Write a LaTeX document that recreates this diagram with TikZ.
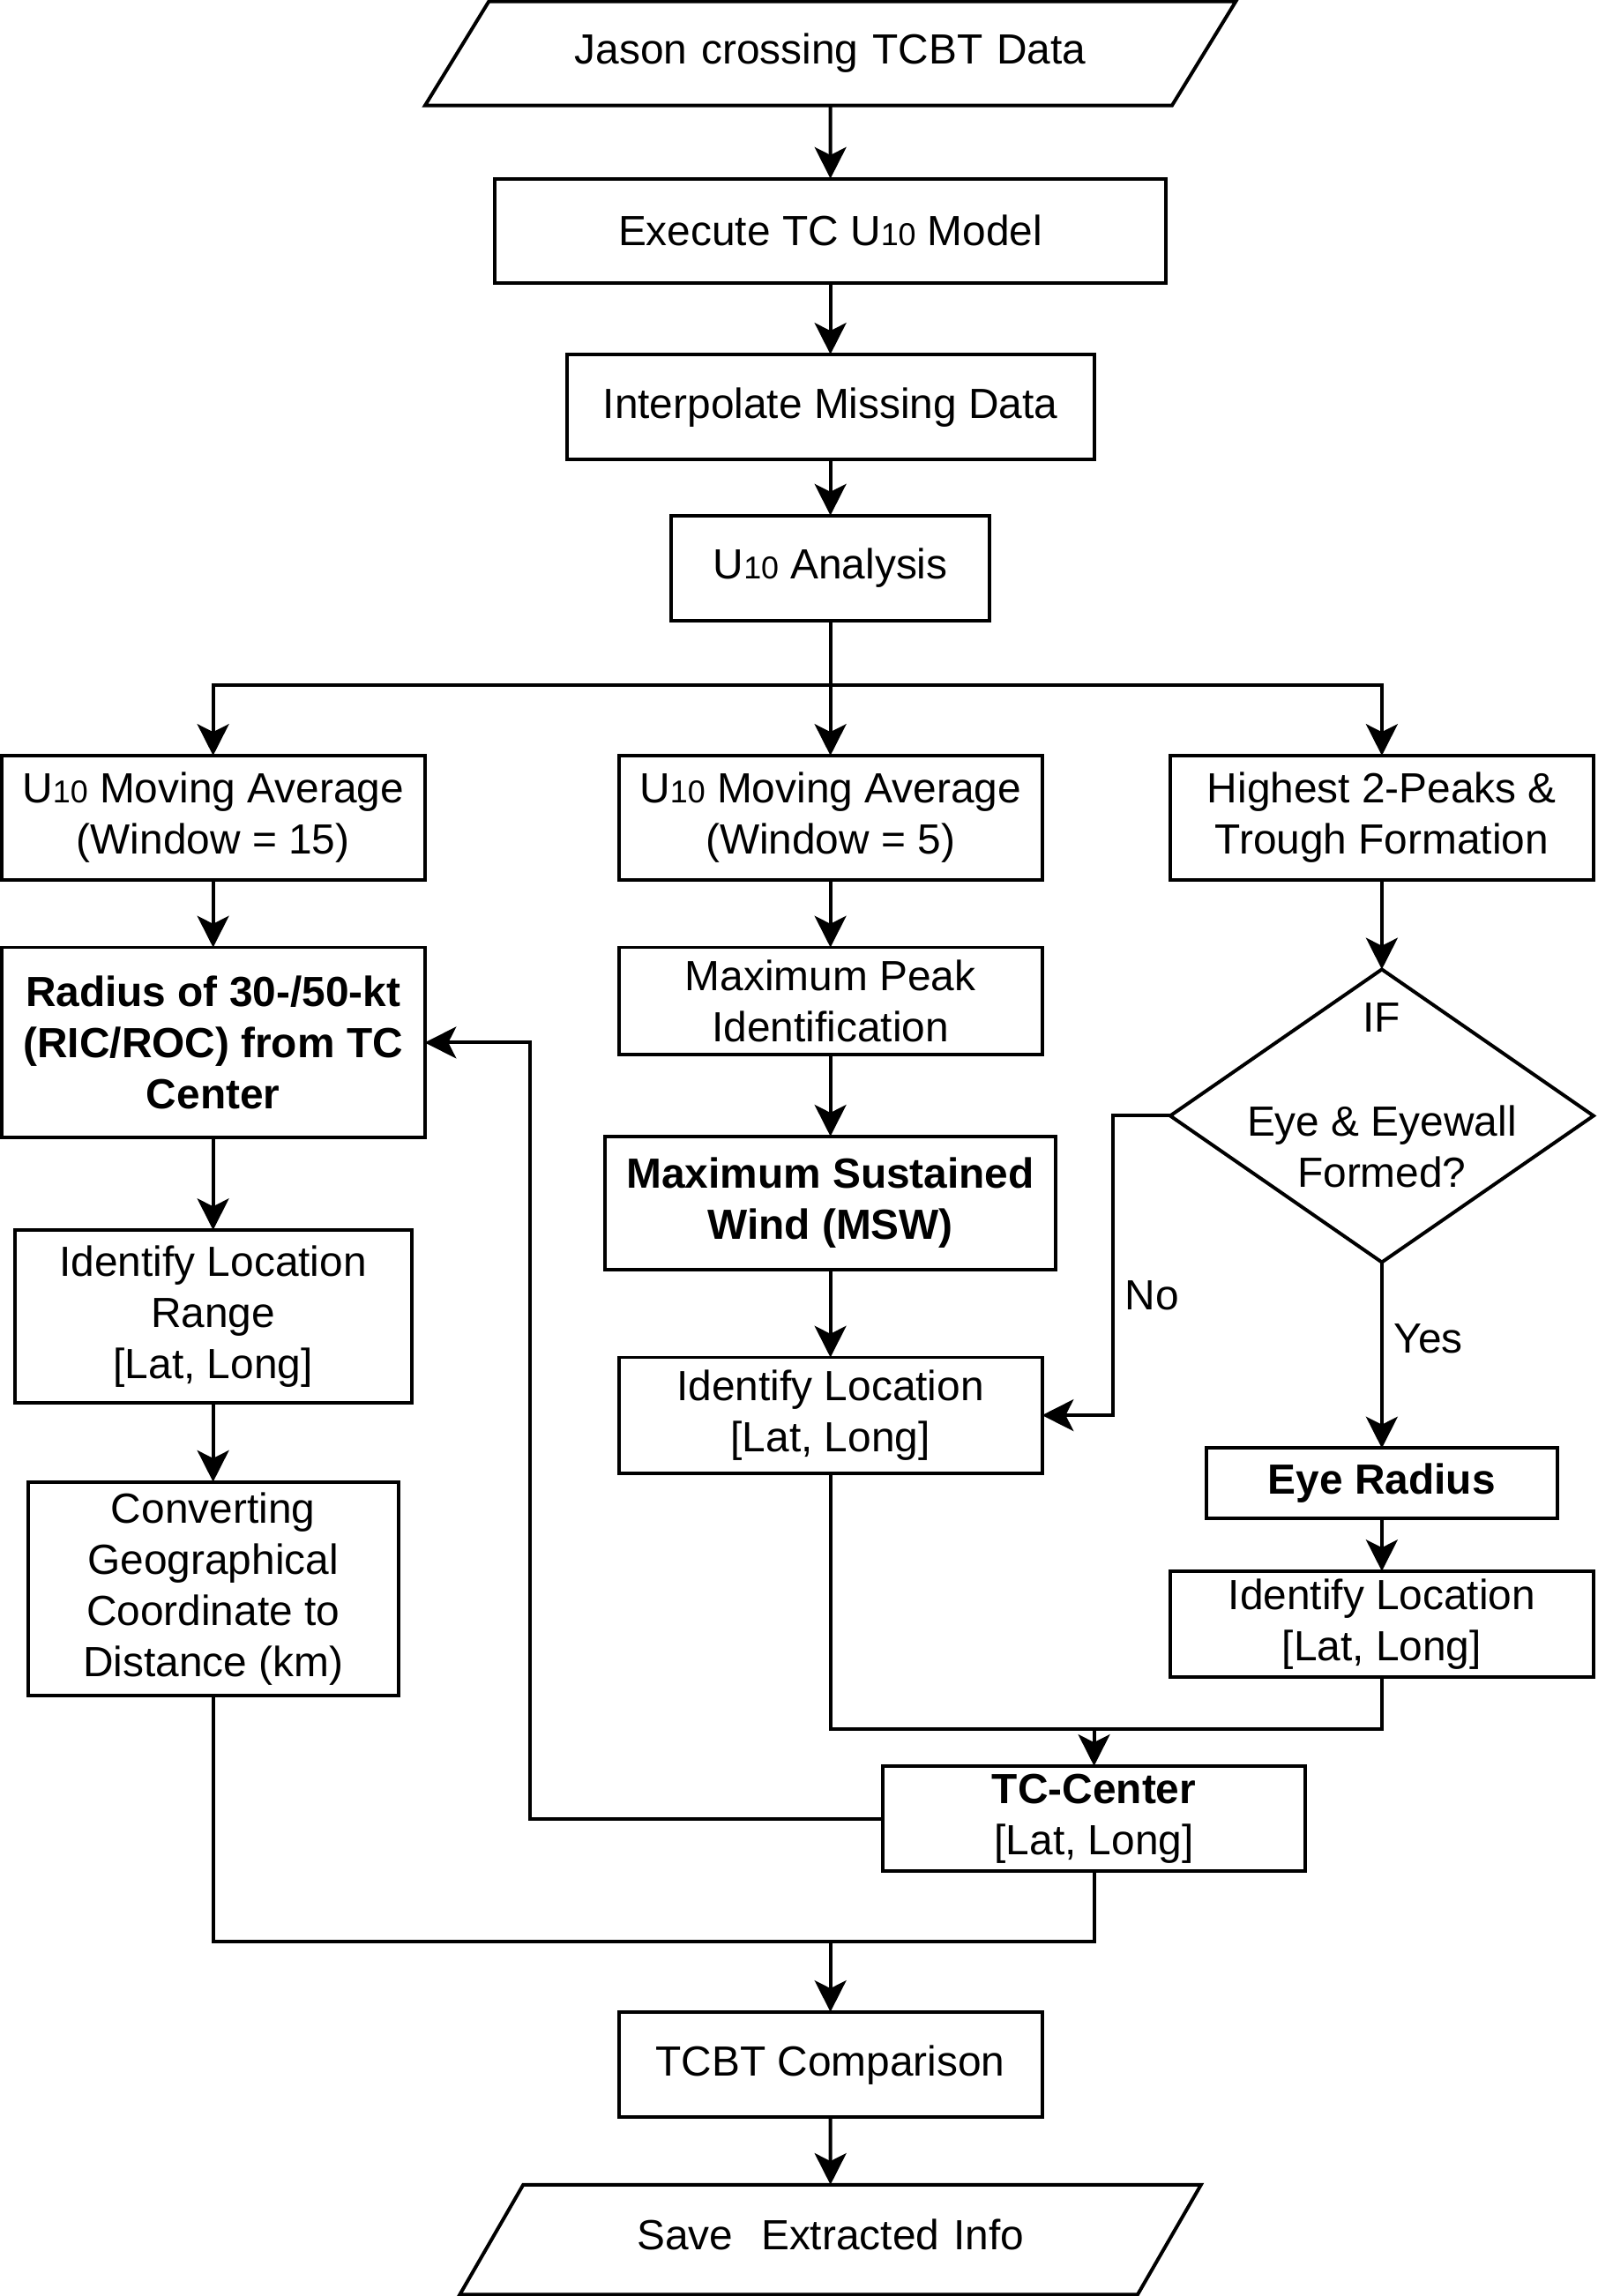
\documentclass[tikz,border=0pt]{standalone}
\usepackage{fontspec}
\setmainfont{Liberation Sans}
\usepackage{tikz}
\usetikzlibrary{shapes.geometric,arrows.meta}

\newcommand{\uten}{U{\fontsize{10.8}{12}\selectfont 10}}

\tikzset{
  box/.style={draw, rectangle, line width=1.2pt, align=center, inner sep=0pt, outer sep=0pt,
    font=\fontsize{14.4}{17.5}\selectfont},
  iobox/.style={draw, trapezium, line width=1.2pt, align=center, inner xsep=2pt, outer sep=0pt,
    text height=10.5pt, text depth=3.5pt, font=\fontsize{14.4}{17.5}\selectfont},
  decbox/.style={draw, diamond, line width=1.2pt, inner sep=0pt, outer sep=0pt},
  txt/.style={align=center, inner sep=0pt, font=\fontsize{14.4}{17.5}\selectfont},
  flow/.style={line width=1.2pt, -{Stealth[length=10.75pt, width=10.8pt, inset=2.7pt]}},
  link/.style={line width=1.2pt}
}

\begin{document}
\begin{tikzpicture}[x=0.5pt, y=-0.5pt]
\useasboundingbox (0,0) rectangle (1091,1568);

% main column
\node[iobox, trapezium left angle=58.5, trapezium right angle=121.5, text width=229.25pt, inner ysep=10.75pt]
  (jason) at (567,36.5) {Jason crossing TCBT Data};
\node[box, minimum width=229pt, minimum height=35.5pt] (exec) at (567,157.5) {Execute TC \uten\ Model};
\node[box, minimum width=180pt, minimum height=36pt] (interp) at (567,278) {Interpolate Missing Data};
\node[box, minimum width=108.5pt, minimum height=36pt] (anal) at (567,388) {\uten\ Analysis};

% three branches
\node[box, minimum width=144.5pt, minimum height=42.5pt] (mav15) at (145.5,558.5) {\uten\ Moving Average\\(Window = 15)};
\node[box, minimum width=144.5pt, minimum height=42.5pt] (mav5) at (567,558.5) {\uten\ Moving Average\\(Window = 5)};
\node[box, minimum width=144.5pt, minimum height=42.5pt] (peaks) at (943.5,558.5) {Highest 2-Peaks \&\\Trough Formation};

% left column
\node[box, minimum width=144.5pt, minimum height=65pt, font=\fontsize{14.4}{17.5}\selectfont\bfseries]
  (radius) at (145.5,712) {Radius of 30-/50-kt\\(RIC/ROC) from TC\\Center};
\node[box, minimum width=135.5pt, minimum height=59pt] (rangeloc) at (145.5,899) {Identify Location\\Range\\{[Lat, Long]}};
\node[box, minimum width=126.5pt, minimum height=73pt] (conv) at (145.5,1085) {Converting\\Geographical\\Coordinate to\\Distance (km)};

% middle column
\node[box, minimum width=144.5pt, minimum height=36.5pt] (peakid) at (567,683.5) {Maximum Peak\\Identification};
\node[box, minimum width=154pt, minimum height=45.5pt, font=\fontsize{14.4}{17.5}\selectfont\bfseries]
  (msw) at (567,821.5) {Maximum Sustained\\Wind (MSW)};
\node[box, minimum width=144.5pt, minimum height=39.5pt] (midloc) at (567,966.5) {Identify Location\\{[Lat, Long]}};

% right column
\node[decbox, minimum width=144.5pt, minimum height=100pt] (dec) at (943.5,762) {};
\node[txt] (ifq) at (943.5,695) {IF};
\node[txt] (eyeq) at (943.5,783) {Eye \& Eyewall\\Formed?};
\node[box, minimum width=120pt, minimum height=24pt, font=\fontsize{14.4}{17.5}\selectfont\bfseries]
  (eyerad) at (943.5,1013) {Eye Radius};
\node[box, minimum width=144.5pt, minimum height=36pt] (rloc) at (943.5,1109) {Identify Location\\{[Lat, Long]}};

% merge
\node[box, minimum width=144pt, minimum height=36pt] (tcc) at (747,1242) {\textbf{TC-Center}\\{[Lat, Long]}};
\node[box, minimum width=144.5pt, minimum height=36pt] (cmp) at (567,1410) {TCBT Comparison};
\node[iobox, trapezium left angle=60, trapezium right angle=120, text width=205.75pt, inner ysep=11.75pt]
  (save) at (567,1529.5) {Save~~Extracted Info};

\coordinate (j1) at (747,1181);
\coordinate (j2) at (567,1326);

% connectors
\draw[flow] (jason) -- (exec);
\draw[flow] (exec) -- (interp);
\draw[flow] (interp) -- (anal);
\draw[flow] (anal) -- (mav5);
\draw[flow] (anal.south) -- ++(0,44) -| (mav15.north);
\draw[flow] (anal.south) -- ++(0,44) -| (peaks.north);

\draw[flow] (mav15) -- (radius);
\draw[flow] (radius) -- (rangeloc);
\draw[flow] (rangeloc) -- (conv);

\draw[flow] (mav5) -- (peakid);
\draw[flow] (peakid) -- (msw);
\draw[flow] (msw) -- (midloc);

\draw[flow] (peaks) -- (dec.north);
\draw[flow] (dec.west) -- ++(-39,0) |- node[txt, pos=0.3, right=3.5pt] {No} (midloc.east);
\draw[flow] (dec.south) -- node[txt, pos=0.41, right=3.5pt] {Yes} (eyerad);
\draw[flow] (eyerad) -- (rloc);

\draw[link] (midloc.south) |- (j1) -| (rloc.south);
\draw[flow] (j1) -- (tcc);
\draw[flow] (tcc.west) -- ++(-241,0) |- (radius.east);

\draw[link] (conv.south) |- (j2) -| (tcc.south);
\draw[flow] (j2) -- (cmp);
\draw[flow] (cmp) -- (save);
\end{tikzpicture}
\end{document}
